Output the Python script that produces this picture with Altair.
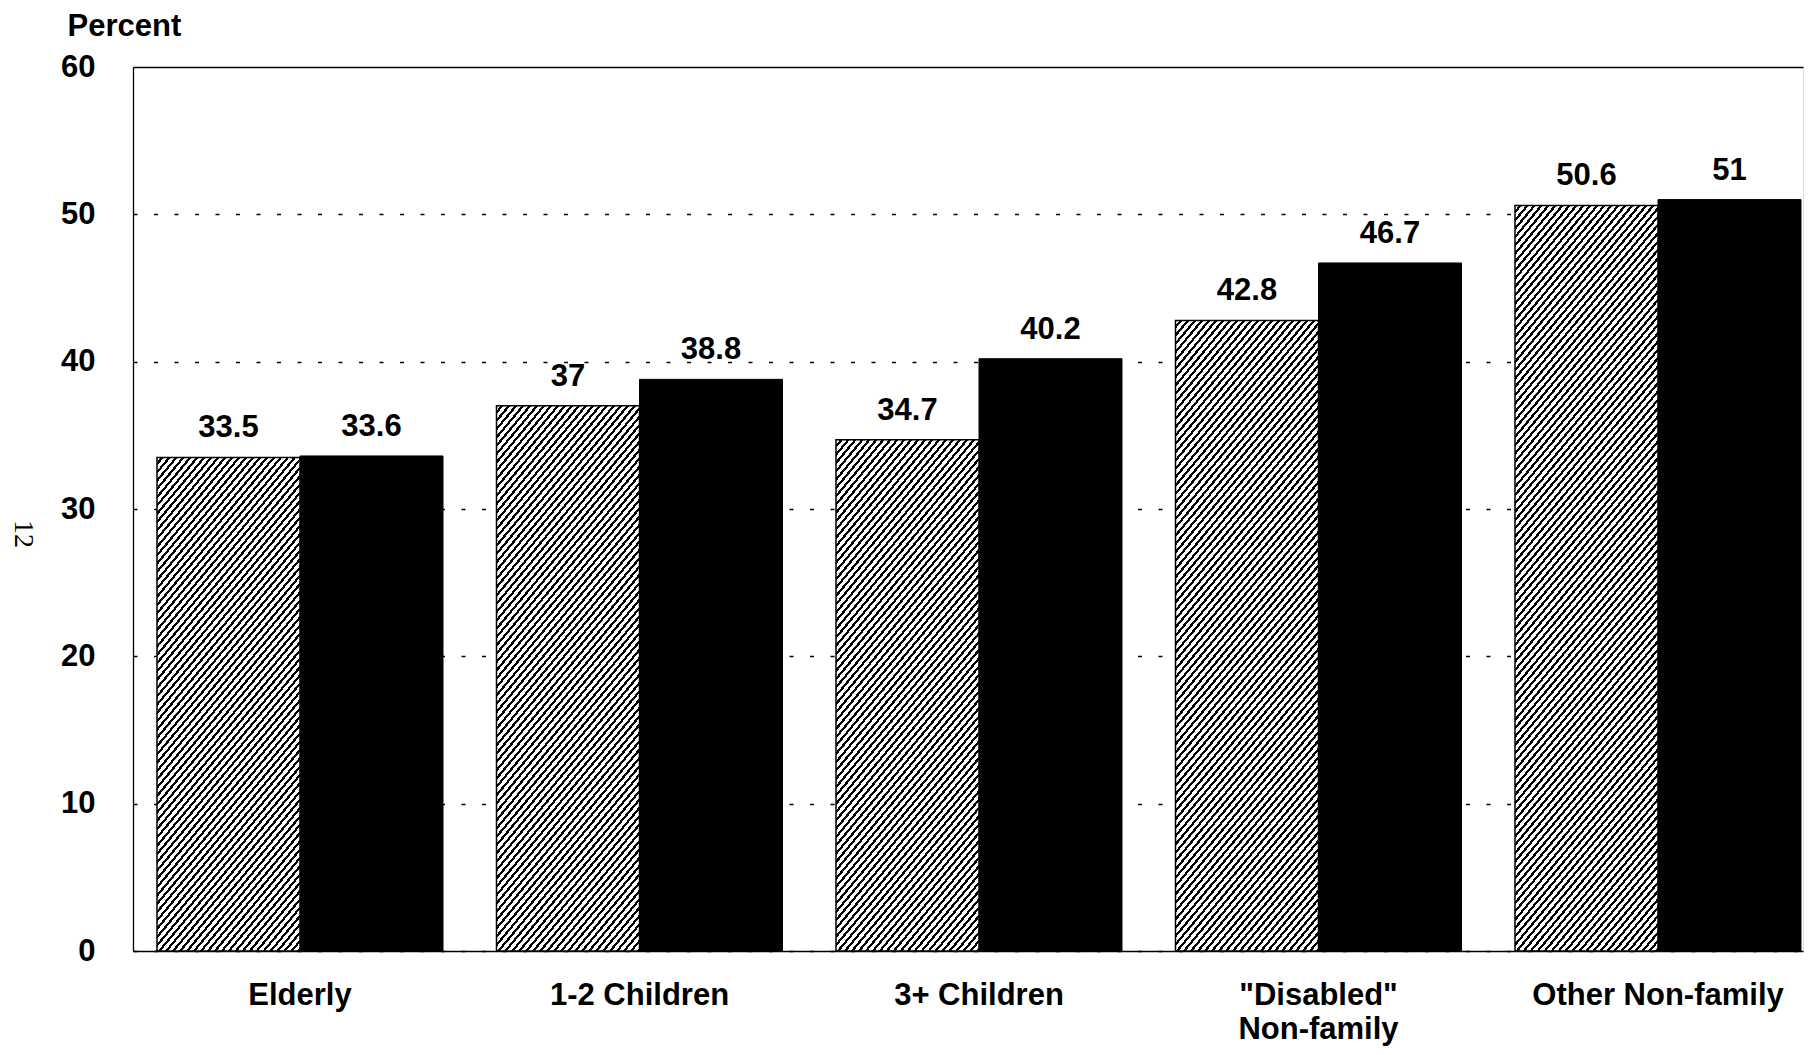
import math
import altair as alt
import pandas as pd

# ---- data ----
categories = ["Elderly", "1-2 Children", "3+ Children", "\"Disabled\"\nNon-family", "Other Non-family"]
series = ["Hatched", "Solid"]
values_hatched = [33.5, 37, 34.7, 42.8, 50.6]
values_solid = [33.6, 38.8, 40.2, 46.7, 51]
y_ticks = [0, 10, 20, 30, 40, 50, 60]

# ---- layout / style ----
W, H = 1670, 884
Y_MAX = 60
P_IN, P_OUT, ALIGN = 0.1576, 0.0383, 0.923
FONT = "Liberation Sans"
FS = 31

rows = []
for c, a, b in zip(categories, values_hatched, values_solid):
    rows.append({"category": c, "series": series[0], "value": a, "label": f"{a:g}"})
    rows.append({"category": c, "series": series[1], "value": b, "label": f"{b:g}"})
df = pd.DataFrame(rows)

step = W / (len(categories) - P_IN + 2 * P_OUT)
bar_w = step * (1 - P_IN) / 2


def hatch(value, angle_deg=50, spacing=7.0, dark=0.42):
    """Diagonal hatch built from a striped linear gradient (bbox units)."""
    h = value / Y_MAX * H
    w = bar_w
    th = math.radians(angle_deg)
    a = 1.0
    b = h * math.cos(th) / (w * math.sin(th))
    s = (a + b) / (a * a + b * b)
    gx, gy = a * s, b * s
    D = w * math.sin(th) + h * math.cos(th)
    per = spacing * math.sin(th)
    n = max(1, round(D / per))
    stops = []
    for k in range(n):
        t0 = round(k / n, 6)
        t1 = round((k + 1 - dark) / n, 6)
        t2 = round((k + 1) / n, 6)
        stops += [
            {"offset": t0, "color": "#ffffff"},
            {"offset": t1, "color": "#ffffff"},
            {"offset": t1, "color": "#000000"},
            {"offset": t2, "color": "#000000"},
        ]
    return {"gradient": "linear", "x1": 0, "y1": 0, "x2": gx, "y2": gy, "stops": stops}


x_enc = alt.X(
    "category:N",
    sort=categories,
    scale=alt.Scale(domain=categories, paddingInner=P_IN, paddingOuter=P_OUT, align=ALIGN),
    axis=alt.Axis(
        title=None,
        labelExpr="split(datum.label, '\\n')",
        labelAngle=0,
        labelFont=FONT,
        labelFontSize=FS,
        labelFontWeight="bold",
        labelColor="black",
        labelPadding=29,
        labelLineHeight=34,
        labelLimit=0,
        ticks=False,
        domainColor="black",
        domainWidth=1.3,
        grid=False,
    ),
)
xo_enc = alt.XOffset(
    "series:N",
    sort=series,
    scale=alt.Scale(domain=series, paddingInner=0, paddingOuter=0),
)
y_enc = alt.Y(
    "value:Q",
    scale=alt.Scale(domain=[0, Y_MAX], nice=False),
    axis=alt.Axis(
        values=y_ticks,
        title="Percent",
        titleAngle=0,
        titleAlign="left",
        titleBaseline="alphabetic",
        titleX=-66,
        titleY=-32,
        titleFont=FONT,
        titleFontSize=FS,
        titleFontWeight="bold",
        titleColor="black",
        labelFont=FONT,
        labelFontSize=FS,
        labelFontWeight="bold",
        labelColor="black",
        labelPadding=38,
        ticks=False,
        domainColor="black",
        domainWidth=1.3,
        grid=True,
        gridColor="black",
        gridOpacity=1,
        gridWidth=1.5,
        gridDash=alt.condition("datum.value === 60", alt.value([1, 0]), alt.value([4, 16.5])),
    ),
)

base = alt.Chart(df).encode(x=x_enc, xOffset=xo_enc, y=y_enc)

solid = base.transform_filter(
    alt.FieldEqualPredicate(field="series", equal=series[1])
).mark_bar(fill="black", stroke="black", strokeWidth=1)

hatched_layers = []
for c, v in zip(categories, values_hatched):
    hatched_layers.append(
        base.transform_filter(
            alt.FieldEqualPredicate(field="category", equal=c)
        ).transform_filter(
            alt.FieldEqualPredicate(field="series", equal=series[0])
        ).mark_bar(fill=hatch(v), stroke="black", strokeWidth=1.5)
    )

labels = base.mark_text(
    baseline="alphabetic",
    dy=-20,
    font=FONT,
    fontSize=FS,
    fontWeight="bold",
    color="black",
).encode(text="label:N")

chart = alt.layer(solid, *hatched_layers, labels).properties(
    width=W,
    height=H,
    title=alt.TitleParams(
        "12",
        orient="left",
        angle=90,
        anchor="middle",
        font="Liberation Serif",
        fontSize=28,
        fontWeight="normal",
        color="black",
        offset=-4,
        dx=25,
    ),
    autosize=alt.AutoSizeParams(type="none"),
    padding={"left": 125, "top": 59, "right": 2, "bottom": 96},
).configure_view(stroke=None).configure(background="white")

chart.save("out.html", embed_options={"renderer": "svg", "actions": False})
